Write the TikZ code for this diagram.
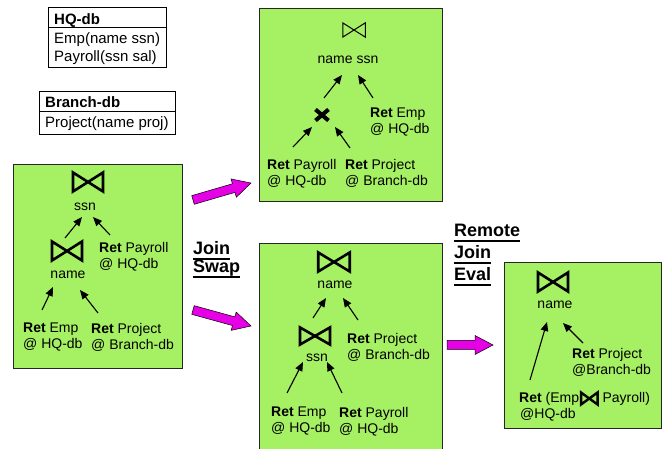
\documentclass[tikz,border=0pt]{standalone}
\usepackage{fontspec}
\setmainfont{Liberation Sans}
\usetikzlibrary{arrows.meta}
\definecolor{planfill}{RGB}{166,240,100}
\definecolor{shiftpink}{RGB}{230,0,230}
% bold underline drawn as a rule just below the baseline
\newcommand\ulword[1]{\setbox0=\hbox{#1}\rlap{\vrule height -2.6pt depth 4.6pt width \wd0}\box0}
\tikzset{
  planbox/.style={draw=black!85, line width=0.8pt, fill=planfill},
  dbtable/.style={draw=black, line width=0.8pt},
  schema/.style={font=\fontsize{15}{18}\selectfont, inner sep=0pt, anchor=base west},
  rel/.style={font=\fontsize{14}{16}\selectfont, align=left, inner sep=0pt, anchor=west},
  attr/.style={font=\fontsize{14}{16}\selectfont, inner sep=0pt},
  flow/.style={-{Triangle[length=9pt,width=7.5pt]}, line width=1.1pt},
  bigarrow/.style={fill=shiftpink, draw=black, line width=0.5pt, line join=miter},
  steplabel/.style={font=\fontsize{18}{22}\selectfont\bfseries, inner sep=0pt, anchor=base west},
  pics/bowtie/.style={code={\draw[line join=miter] (-15,-9.5) -- (-15,9.5) -- (15,-9.5) -- (15,9.5) -- cycle;}},
  pics/fatarrow/.style={code={\filldraw[bigarrow] (-#1,-4.5) -- ({#1-18},-4.5) -- ({#1-18},-9.5) -- (#1,0) -- ({#1-18},9.5) -- ({#1-18},4.5) -- (-#1,4.5) -- cycle;}},
  pics/crossmark/.style={code={\draw[line width=4pt] (-6.5,-5.5) -- (6.5,5.5) (-6.5,5.5) -- (6.5,-5.5);}},
}
\begin{document}
\begin{tikzpicture}[x=1pt,y=-1pt]
\useasboundingbox (0,0) rectangle (662,449);

% ---------- catalogue tables ----------
\draw[dbtable] (48,7) rectangle (166,67);
\draw[dbtable] (48,27) -- (166,27);
\node[schema] (hq) at (54,25) {\bfseries HQ-db};
\node[schema] (hqemp) at (54,44) {Emp(name ssn)};
\node[schema] (hqpay) at (54,62) {Payroll(ssn sal)};

\draw[dbtable] (39,91) rectangle (175,134);
\draw[dbtable] (39,111) -- (175,111);
\node[schema] (br) at (45,108) {\bfseries Branch-db};
\node[schema] (brproj) at (45,128) {Project(name proj)};

% ---------- plan boxes ----------
\path[planbox] (13,164) rectangle (182,368);
\path[planbox] (259,8) rectangle (442,201);
\path[planbox] (259,243) rectangle (442,460);
\path[planbox] (504,262) rectangle (661,428);

% ---------- initial plan ----------
\pic[line width=2.6pt] at (88,182) {bowtie};
\node[attr] (a0) at (85,207) {ssn};
\pic[line width=2.6pt] at (67,251) {bowtie};
\node[attr] (a1) at (68,275) {name};
\node[rel] (apay) at (99,257) {\textbf{Ret} Payroll\\@ HQ-db};
\node[rel] (aemp) at (23,337.5) {\textbf{Ret} Emp\\@ HQ-db};
\node[rel] (aproj) at (91,337.5) {\textbf{Ret} Project\\@ Branch-db};
\coordinate (a1up) at (65,238);   \coordinate (a0l) at (82,217);
\coordinate (apayup) at (110,235); \coordinate (a0r) at (93,217);
\coordinate (aempup) at (42,310);  \coordinate (a1l) at (53,287);
\coordinate (aprojup) at (98,313); \coordinate (a1r) at (80,290);
\draw[flow] (a1up) -- (a0l);
\draw[flow] (apayup) -- (a0r);
\draw[flow] (aempup) -- (a1l);
\draw[flow] (aprojup) -- (a1r);

% ---------- cross-product plan ----------
\pic[line width=1pt, xscale=0.75, yscale=0.75] at (354,30) {bowtie};
\node[attr] (b0) at (348,60) {name ssn};
\pic at (322,115) {crossmark};
\node[rel] (bemp) at (370,122.5) {\textbf{Ret} Emp\\@ HQ-db};
\node[rel] (bpay) at (267,173.5) {\textbf{Ret} Payroll\\@ HQ-db};
\node[rel] (bproj) at (345,173.5) {\textbf{Ret} Project\\@ Branch-db};
\coordinate (bxup) at (324,98);    \coordinate (b0l) at (342,75);
\coordinate (bempup) at (373,98);  \coordinate (b0r) at (358,75);
\coordinate (bpayup) at (293,147); \coordinate (bxl) at (312,127);
\coordinate (bprojup) at (350,148);\coordinate (bxr) at (335,127);
\draw[flow] (bxup) -- (b0l);
\draw[flow] (bempup) -- (b0r);
\draw[flow] (bpayup) -- (bxl);
\draw[flow] (bprojup) -- (bxr);

% ---------- swapped plan ----------
\pic[line width=2.6pt, xscale=1.05] at (334,262) {bowtie};
\node[attr] (c0) at (335,285) {name};
\pic[line width=2.6pt, yscale=0.9] at (315,336) {bowtie};
\node[attr] (c1) at (317,358) {ssn};
\node[rel] (cproj) at (347,347.5) {\textbf{Ret} Project\\@ Branch-db};
\node[rel] (cemp) at (271,421.5) {\textbf{Ret} Emp\\@ HQ-db};
\node[rel] (cpay) at (339,421.5) {\textbf{Ret} Payroll\\@ HQ-db};
\coordinate (c1up) at (313,318);   \coordinate (c0l) at (326,298);
\coordinate (cprojup) at (358,320);\coordinate (c0r) at (343,298);
\coordinate (cempup) at (287,393); \coordinate (c1l) at (303,362);
\coordinate (cpayup) at (342,393); \coordinate (c1r) at (327,362);
\draw[flow] (c1up) -- (c0l);
\draw[flow] (cprojup) -- (c0r);
\draw[flow] (cempup) -- (c1l);
\draw[flow] (cpayup) -- (c1r);

% ---------- remote join plan ----------
\pic[line width=2.6pt] at (553,282) {bowtie};
\node[attr] (d0) at (555,305) {name};
\node[rel] (dproj) at (572,362.5) {\textbf{Ret} Project\\@Branch-db};
\node[rel] (drem) at (519,398.5) {\textbf{Ret} (Emp};
\pic[line width=2.4pt, xscale=0.55, yscale=0.63] at ([xshift=10pt]drem.east) {bowtie};
\node[rel] (drem2) at ([xshift=23pt]drem.east) {Payroll)};
\node[rel] (dhq) at (520,414.5) {@HQ-db};
\coordinate (dremup) at (530,380); \coordinate (d0l) at (547,322);
\coordinate (dprojup) at (583,343);\coordinate (d0r) at (563,323);
\draw[flow] (dremup) -- (d0l);
\draw[flow] (dprojup) -- (d0r);

% ---------- rewrite steps ----------
\pic[rotate=16.3] at (222,191.5) {fatarrow=30.2};
\pic[rotate=-15.4] at (222,318) {fatarrow=30.1};
\pic at (470,345) {fatarrow=23};

\node[steplabel] (js1) at (193,255) {\ulword{Join}};
\node[steplabel] (js2) at (193,273) {\ulword{Swap}};
\node[steplabel] (rj1) at (454,237) {\ulword{Remote}};
\node[steplabel] (rj2) at (454,259) {\ulword{Join}};
\node[steplabel] (rj3) at (454,281) {\ulword{Eval}};
\end{tikzpicture}
\end{document}
